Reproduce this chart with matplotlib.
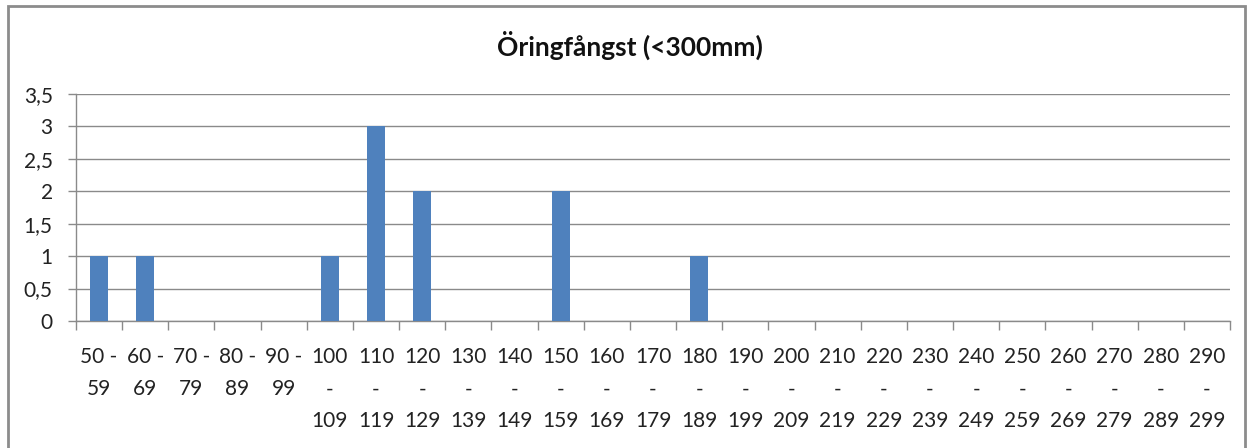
import matplotlib
matplotlib.use('Agg')
import matplotlib.pyplot as plt
import matplotlib.patches as mpatches
from matplotlib.ticker import FuncFormatter

# length classes (mm) and catch counts
starts = list(range(50, 300, 10))
counts = [1, 1, 0, 0, 0, 1, 3, 2, 0, 0, 2, 0, 0, 1, 0, 0, 0, 0, 0, 0, 0, 0, 0, 0, 0]
yticks = [0, 0.5, 1, 1.5, 2, 2.5, 3, 3.5]

labels = []
for s in starts:
    if s < 100:
        labels.append('%d -\n%d' % (s, s + 9))
    else:
        labels.append('%d\n-\n%d' % (s, s + 9))

plt.rcParams['font.family'] = ['Lato', 'DejaVu Sans']

fig = plt.figure(figsize=(12.52, 4.48), dpi=100)
ax = fig.add_axes([76 / 1252, 1 - 321 / 448, (1230 - 76) / 1252, (321 - 94) / 448])

x = list(range(len(starts)))
ax.bar(x, counts, width=0.39, color='#4F81BD', zorder=3)

ax.set_xlim(-0.5, len(starts) - 0.5)
ax.set_ylim(0, 3.5)
ax.set_yticks(yticks)
ax.yaxis.set_major_formatter(FuncFormatter(lambda v, p: ('%g' % v).replace('.', ',')))
ax.grid(axis='y', color='#8a8a8a', linewidth=1, zorder=0)

ax.set_xticks(x)
ax.set_xticklabels(labels, linespacing=1.75, va='top')
ax.set_xticks([i - 0.5 for i in range(len(starts) + 1)], minor=True)
ax.tick_params(axis='x', which='major', length=0, pad=19, labelsize=15, colors='#222222')
ax.tick_params(axis='x', which='minor', length=6.5, width=1, color='#8a8a8a')
ax.tick_params(axis='y', length=5.8, width=1, color='#8a8a8a', labelsize=15, labelcolor='#222222', pad=11)

for sp in ['top', 'right']:
    ax.spines[sp].set_visible(False)
for sp in ['left', 'bottom']:
    ax.spines[sp].set_color('#8a8a8a')
    ax.spines[sp].set_linewidth(1)

fig.text(630 / 1252, 1 - 45 / 448, 'Öringfångst (<300mm)', ha='center', va='center',
         fontsize=19, fontweight='bold', color='#111111')

border = mpatches.Rectangle((8 / 1252, -0.05), (1245 - 8) / 1252, 1.05 - 6 / 448,
                            transform=fig.transFigure, fill=False, edgecolor='#8c8c8c', linewidth=2)
fig.patches.append(border)

fig.savefig('out.png', dpi=100)
